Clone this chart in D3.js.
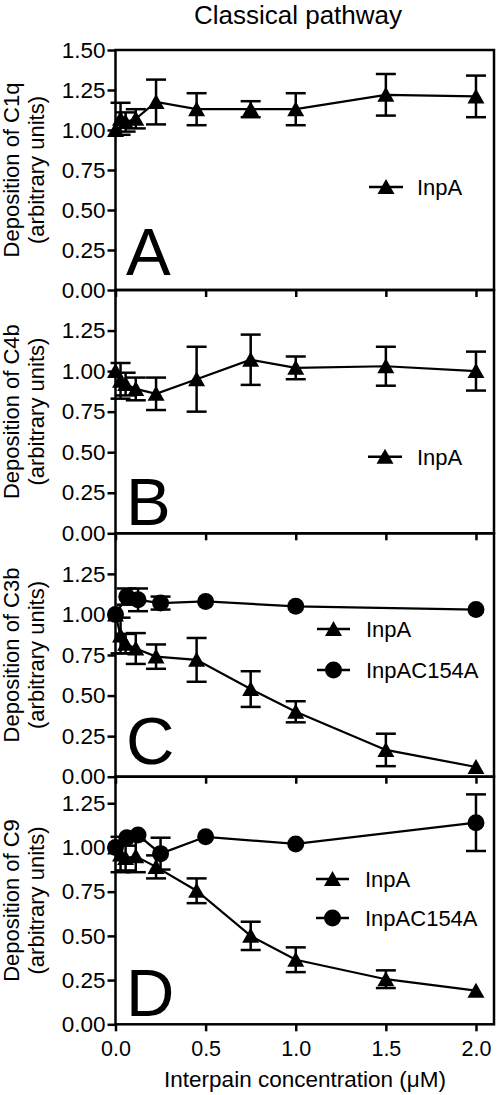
<!DOCTYPE html>
<html>
<head>
<meta charset="utf-8">
<script src="https://cdn.jsdelivr.net/npm/d3@7"></script>
<style>
  html, body { margin: 0; padding: 0; background: #fff; }
  svg { display: block; }
  text { font-family: "Liberation Sans", Arial, Helvetica, sans-serif; fill: #000; }
</style>
</head>
<body>
<svg id="chart" width="498" height="1095"></svg>
<script>
// ---------- data ----------
const chartTitle = "Classical pathway";
const xAxisTitle = "Interpain concentration (\u03BCM)";
const seriesNames = ["InpA", "InpAC154A"];
const panelLetters = ["A", "B", "C", "D"];
const yTitles = ["Deposition of C1q", "Deposition of C4b", "Deposition of C3b", "Deposition of C9"];
const yTitle2 = "(arbitrary units)";
const xTickValues = [0, 0.5, 1.0, 1.5, 2.0];
const xTickLabels = ["0.0", "0.5", "1.0", "1.5", "2.0"];
const yTickValuesFull = [0, 0.25, 0.5, 0.75, 1.0, 1.25, 1.5];
const yTickValuesLower = [0, 0.25, 0.5, 0.75, 1.0, 1.25];

const xInpA = [0, 0.028, 0.056, 0.1125, 0.225, 0.45, 0.75, 1.0, 1.5, 2.0];
const xC154A = [0, 0.0625, 0.125, 0.25, 0.5, 1.0, 2.0];

const c1qInpA    = [1.00, 1.07, 1.05, 1.07, 1.175, 1.13, 1.13, 1.13, 1.22, 1.21];
const c1qInpAErr = [0, 0.10, 0.06, 0.06, 0.14, 0.10, 0.05, 0.10, 0.13, 0.13];

const c4bInpA    = [1.00, 0.94, 0.92, 0.89, 0.86, 0.95, 1.07, 1.02, 1.03, 1.00];
const c4bInpAErr = [0, 0.11, 0.07, 0.07, 0.10, 0.20, 0.155, 0.07, 0.12, 0.12];

const c3bInpA     = [1.00, 0.87, 0.82, 0.79, 0.74, 0.72, 0.54, 0.40, 0.165, 0.06];
const c3bInpAErr  = [0, 0.11, 0.06, 0.095, 0.075, 0.135, 0.11, 0.065, 0.10, 0];
const c3bC154A    = [1.00, 1.11, 1.09, 1.07, 1.08, 1.05, 1.03];
const c3bC154AErr = [0, 0.05, 0.07, 0.04, 0, 0, 0];

const c9InpA      = [1.00, 0.96, 0.94, 0.95, 0.89, 0.755, 0.50, 0.365, 0.255, 0.19];
const c9InpAErr   = [0, 0.10, 0.07, 0.09, 0.065, 0.07, 0.08, 0.07, 0.05, 0];
const c9C154A     = [1.00, 1.055, 1.07, 0.965, 1.06, 1.02, 1.14];
const c9C154AErr  = [0, 0, 0, 0.09, 0, 0, 0.16];

// ---------- layout ----------
const svg = d3.select("#chart");
const left = 115.5, right = 494;
const x = d3.scaleLinear().domain([0, 2.1]).range([left, right]);

const panels = [
  { top: 50, bottom: 290, yMax: 1.5, ticks: yTickValuesFull,
    series: [{ name: seriesNames[0], xs: xInpA, ys: c1qInpA, es: c1qInpAErr, shape: "tri" }],
    legend: { x1: 369, x2: 403, tx: 417, ys: [187] }, letterY: 275 },
  { top: 290, bottom: 533.3, yMax: 1.5, ticks: yTickValuesLower,
    series: [{ name: seriesNames[0], xs: xInpA, ys: c4bInpA, es: c4bInpAErr, shape: "tri" }],
    legend: { x1: 368, x2: 402, tx: 417, ys: [456.7] }, letterY: 525 },
  { top: 533.3, bottom: 776.7, yMax: 1.5, ticks: yTickValuesLower,
    series: [{ name: seriesNames[0], xs: xInpA, ys: c3bInpA, es: c3bInpAErr, shape: "tri" },
             { name: seriesNames[1], xs: xC154A, ys: c3bC154A, es: c3bC154AErr, shape: "circ" }],
    legend: { x1: 317, x2: 350, tx: 366, ys: [629, 670] }, letterY: 764 },
  { top: 776.7, bottom: 1024.3, yMax: 1.4, ticks: yTickValuesLower,
    series: [{ name: seriesNames[0], xs: xInpA, ys: c9InpA, es: c9InpAErr, shape: "tri" },
             { name: seriesNames[1], xs: xC154A, ys: c9C154A, es: c9C154AErr, shape: "circ" }],
    legend: { x1: 316, x2: 349, tx: 365, ys: [879, 918] }, letterY: 1016 }
];

const triPath = "M-8.5,7L8.5,7L0,-8Z";
function drawMarker(g, shape, cx, cy) {
  if (shape === "tri") {
    g.append("path").attr("d", triPath).attr("transform", `translate(${cx},${cy})`).attr("fill", "#000");
  } else {
    g.append("circle").attr("cx", cx).attr("cy", cy).attr("r", 8.5).attr("fill", "#000");
  }
}

// title
svg.append("text").attr("x", 298).attr("y", 23.5).attr("text-anchor", "middle")
  .style("font-size", "26px").text(chartTitle);

panels.forEach((p, i) => {
  const y = d3.scaleLinear().domain([0, p.yMax]).range([p.bottom, p.top]);
  const g = svg.append("g");

  // y axis ticks
  const yAxis = d3.axisLeft(y).tickValues(p.ticks).tickFormat(d3.format(".2f")).tickSize(8).tickPadding(2);
  const ya = g.append("g").attr("transform", `translate(${left},0)`).call(yAxis);
  ya.select(".domain").remove();
  ya.selectAll("line").attr("stroke", "#000").attr("stroke-width", 2.5);
  ya.selectAll("text").style("font-size", "22.5px").style("font-family", '"Liberation Sans", Arial, sans-serif');

  // x axis ticks at bottom of each panel
  const xAxis = d3.axisBottom(x).tickValues(xTickValues).tickSize(7).tickPadding(9)
    .tickFormat((d, k) => xTickLabels[k]);
  const xa = g.append("g").attr("transform", `translate(0,${p.bottom})`).call(xAxis);
  xa.select(".domain").remove();
  xa.selectAll("line").attr("stroke", "#000").attr("stroke-width", 2.5);
  if (i < panels.length - 1) {
    xa.selectAll("text").remove();
  } else {
    xa.selectAll("text").style("font-size", "21.5px").style("font-family", '"Liberation Sans", Arial, sans-serif');
  }

  // frame
  g.append("rect").attr("x", left).attr("y", p.top).attr("width", right - left).attr("height", p.bottom - p.top)
    .attr("fill", "none").attr("stroke", "#000").attr("stroke-width", 2.5);

  // y titles
  const cy = (p.top + p.bottom) / 2;
  g.append("text").attr("transform", `translate(19,${cy}) rotate(-90)`).attr("text-anchor", "middle")
    .style("font-size", "22px").text(yTitles[i]);
  g.append("text").attr("transform", `translate(44,${cy}) rotate(-90)`).attr("text-anchor", "middle")
    .style("font-size", "22px").text(yTitle2);

  // panel letter
  g.append("text").attr("x", 126).attr("y", p.letterY).style("font-size", "67px").text(panelLetters[i]);

  // data
  p.series.forEach(s => {
    const pts = s.xs.map((xv, k) => ({ x: xv, y: s.ys[k], e: s.es[k] }));
    g.append("path").datum(pts)
      .attr("d", d3.line().x(d => x(d.x)).y(d => y(d.y)))
      .attr("fill", "none").attr("stroke", "#000").attr("stroke-width", 2.2);
    pts.forEach(d => {
      if (d.e > 0) {
        const px = x(d.x), y1 = y(d.y + d.e), y2 = y(d.y - d.e);
        g.append("line").attr("x1", px).attr("x2", px).attr("y1", y1).attr("y2", y2)
          .attr("stroke", "#000").attr("stroke-width", 2.5);
        [y1, y2].forEach(yy => g.append("line").attr("x1", px - 10).attr("x2", px + 10)
          .attr("y1", yy).attr("y2", yy).attr("stroke", "#000").attr("stroke-width", 2.5));
      }
    });
    pts.forEach(d => drawMarker(g, s.shape, x(d.x), y(d.y)));
  });

  // legend
  p.series.forEach((s, k) => {
    const ly = p.legend.ys[k];
    g.append("line").attr("x1", p.legend.x1).attr("x2", p.legend.x2).attr("y1", ly).attr("y2", ly)
      .attr("stroke", "#000").attr("stroke-width", 2.5);
    drawMarker(g, s.shape, (p.legend.x1 + p.legend.x2) / 2, ly);
    g.append("text").attr("x", p.legend.tx).attr("y", ly + 8).style("font-size", "22px").text(s.name);
  });
});

// x axis title
svg.append("text").attr("x", 305).attr("y", 1087).attr("text-anchor", "middle")
  .style("font-size", "22.5px").text(xAxisTitle);
</script>
</body>
</html>
